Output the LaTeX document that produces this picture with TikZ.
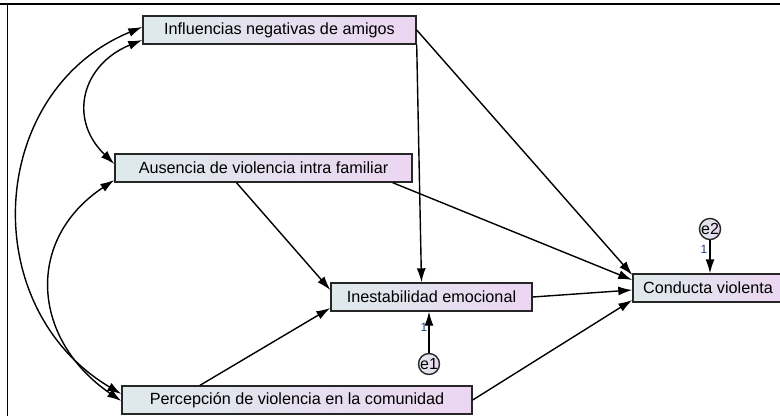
\documentclass[tikz,border=0pt]{standalone}
\usepackage{fontspec}
\setmainfont{Liberation Sans}
\usepackage{tikz}
\usetikzlibrary{arrows.meta}

\definecolor{boxleft}{RGB}{222,234,236}
\definecolor{boxright}{RGB}{236,214,242}
\definecolor{wtblue}{RGB}{30,60,140}

\begin{document}
\begin{tikzpicture}[x=1pt,y=-1pt,
	obsbox/.style={shape=rectangle,draw=black!85,line width=1.4pt,left color=boxleft,right color=boxright,minimum height=28pt,inner sep=0pt,font=\fontsize{16.2}{18}\selectfont},
	errvar/.style={shape=circle,draw=black!85,line width=1.4pt,left color=boxleft,right color=boxright,minimum size=19pt,inner sep=0pt,font=\fontsize{16}{17}\selectfont},
	reg/.style={line width=1.4pt,-{Latex[length=14pt,width=9pt]}},
	cov/.style={line width=1.4pt,{Latex[length=14pt,width=9pt]}-{Latex[length=14pt,width=9pt]}},
	wt/.style={font=\fontsize{12}{13}\selectfont,text=wtblue,inner sep=0pt}]

	\useasboundingbox (0,0) rectangle (780,416);
	\draw[line width=2.2pt] (0,4) -- (780,4);
	\draw[line width=0.9pt] (7,5) -- (7,416);

	\node[obsbox,minimum width=273pt] (amigos) at (279.5, 30)     {Influencias negativas de amigos};
	\node[obsbox,minimum width=297pt] (familia) at (263.5, 168)     {Ausencia de violencia intra familiar};
	\node[obsbox,minimum width=201pt] (inest) at (431.5, 297)     {Inestabilidad emocional};
	\node[obsbox,minimum width=350pt] (percep) at (297, 400)     {Percepción de violencia en la comunidad};
	\node[obsbox,minimum width=150pt] (conducta) at (708, 288)     {Conducta violenta};
	\node[errvar] (e1) at (429, 364)     {e1};
	\node[errvar] (e2) at (710, 229)     {e2};

	\node[wt] (w1) at (424, 327)     {1};
	\node[wt] (w2) at (704, 249)     {1};

	\draw[reg] (amigos.south east) -- ([xshift=-10pt]inest.north);
	\draw[reg] (amigos.east) -- ([yshift=13pt]conducta.west);
	\draw[reg] ([xshift=-27pt]familia.south) -- ([yshift=7pt]inest.west);
	\draw[reg] ([xshift=-20pt]familia.south east) -- ([yshift=8pt]conducta.west);
	\draw[reg] (inest.east) -- ([yshift=-2pt]conducta.west);
	\draw[reg] ([xshift=-97pt]percep.north) -- ([yshift=-11pt]inest.west);
	\draw[reg] (percep.east) -- ([yshift=-12pt]conducta.west);
	\draw[reg] (e1) -- (e1 |- inest.south);
	\draw[reg] (e2) -- (e2 |- conducta.north);

	\draw[cov] ([yshift=3pt]amigos.west) .. controls (-13,91) and (-25,307) .. ([yshift=6pt]percep.west);
	\draw[cov] ([yshift=-10pt]amigos.west) .. controls (83,64) and (67,118) .. ([yshift=4pt]familia.west);
	\draw[cov] ([yshift=-12pt]familia.west) .. controls (24,240) and (32,340) .. ([yshift=-1pt]percep.west);
\end{tikzpicture}
\end{document}
